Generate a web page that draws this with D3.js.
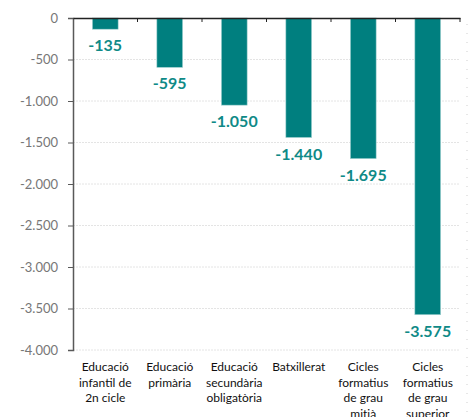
<!DOCTYPE html>
<html>
<head>
<meta charset="utf-8">
<script src="https://cdn.jsdelivr.net/npm/d3@7"></script>
<style>
  body { margin: 0; background: #fff; }
  .tick text { font-family: Lato, sans-serif; }
</style>
</head>
<body>
<div id="chart"></div>
<script>
// data
var categories = [
  ["Educació", "infantil de", "2n cicle"],
  ["Educació", "primària"],
  ["Educació", "secundària", "obligatòria"],
  ["Batxillerat"],
  ["Cicles", "formatius", "de grau", "mitjà"],
  ["Cicles", "formatius", "de grau", "superior"]
];
var values = [-135, -595, -1050, -1440, -1695, -3575];
var yTicks = [0, -500, -1000, -1500, -2000, -2500, -3000, -3500, -4000];

var width = 470, height = 417;
var margin = {top: 18, right: 10, bottom: 67, left: 73};

// catalan style numbers: dot as thousands separator, plain hyphen
var fmt = function(d) {
  return d3.format(",")(d).replace(/,/g, ".").replace("\u2212", "-");
};

var svg = d3.select("#chart")
  .append("svg")
  .attr("width", width)
  .attr("height", height);

var x = d3.scaleBand()
  .domain(d3.range(values.length))
  .range([margin.left, width - margin.right])
  .paddingInner(0.6)
  .paddingOuter(0.3);

var y = d3.scaleLinear()
  .domain([0, -4000])
  .range([margin.top, height - margin.bottom]);

// gridlines
svg.append("g")
  .selectAll("line")
  .data(yTicks.slice(1))
  .enter()
  .append("line")
  .attr("x1", margin.left)
  .attr("x2", width - margin.right)
  .attr("y1", function(d){ return y(d); })
  .attr("y2", function(d){ return y(d); })
  .attr("stroke", "#e4e4e4")
  .attr("stroke-dasharray", "2,1");

// right border dotted
svg.append("line")
  .attr("x1", 467).attr("x2", 467)
  .attr("y1", margin.top + 6).attr("y2", height)
  .attr("stroke", "#cfcfcf")
  .attr("stroke-dasharray", "1,8");

// bars
svg.append("g")
  .selectAll("rect")
  .data(values)
  .enter()
  .append("rect")
  .attr("x", function(d, i){ return x(i); })
  .attr("y", y(0))
  .attr("width", x.bandwidth())
  .attr("height", function(d){ return y(d) - y(0); })
  .attr("fill", "#007f7f")
  .attr("stroke", "#a8d4d4")
  .attr("stroke-width", 0.6);

// value labels
svg.append("g")
  .selectAll("text")
  .data(values)
  .enter()
  .append("text")
  .attr("x", function(d, i){ return x(i) + x.bandwidth() / 2; })
  .attr("y", function(d){ return y(d) + 22; })
  .attr("text-anchor", "middle")
  .attr("font-family", "Lato, sans-serif")
  .attr("font-weight", "bold")
  .attr("font-size", 16)
  .attr("fill", "#0f8a87")
  .text(fmt);

// y axis
var yAxis = d3.axisLeft(y)
  .tickValues(yTicks)
  .tickSize(5)
  .tickPadding(10)
  .tickFormat(fmt);

var gy = svg.append("g")
  .attr("transform", "translate(" + margin.left + ",0)")
  .call(yAxis);
gy.select(".domain").attr("stroke", "#595959").attr("stroke-width", 1.5);
gy.selectAll(".tick line").attr("stroke", "#595959");
gy.selectAll(".tick text")
  .attr("font-size", 13)
  .attr("fill", "#777");

// top category axis
var xAxis = d3.axisBottom(x).tickSize(0).tickFormat("");
var gx = svg.append("g")
  .attr("transform", "translate(0," + margin.top + ")")
  .call(xAxis);
gx.select(".domain").attr("stroke", "#222").attr("stroke-width", 1.5);

var step = x.step();
svg.append("g")
  .selectAll("line")
  .data(d3.range(values.length))
  .enter()
  .append("line")
  .attr("x1", function(d){ return x(d) + x.bandwidth() / 2 + step / 2; })
  .attr("x2", function(d){ return x(d) + x.bandwidth() / 2 + step / 2; })
  .attr("y1", margin.top)
  .attr("y2", margin.top + 4)
  .attr("stroke", "#222");

// category labels
var catText = svg.append("g")
  .selectAll("text")
  .data(categories)
  .enter()
  .append("text")
  .attr("text-anchor", "middle")
  .attr("font-family", "Lato, sans-serif")
  .attr("font-size", 12)
  .attr("fill", "#111");

catText.selectAll("tspan")
  .data(function(d, i){
    return d.map(function(line){ return {line: line, i: i}; });
  })
  .enter()
  .append("tspan")
  .attr("x", function(d){ return x(d.i) + x.bandwidth() / 2; })
  .attr("y", function(d, j){ return 371 + j * 15.5; })
  .text(function(d){ return d.line; });
</script>
</body>
</html>
